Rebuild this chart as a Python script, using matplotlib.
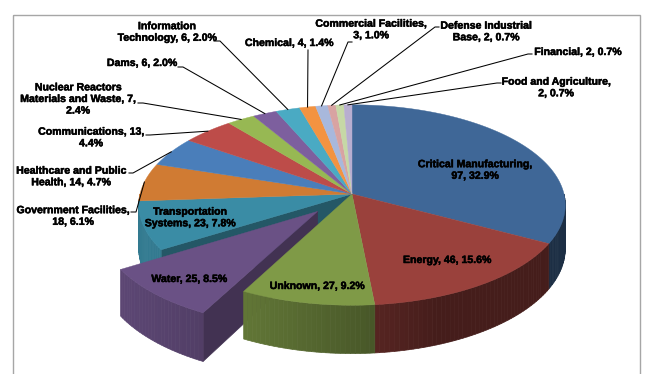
import numpy as np
import matplotlib
matplotlib.use("Agg")
import matplotlib.pyplot as plt
import matplotlib.patheffects as pe
from matplotlib.patches import Polygon, Rectangle
from matplotlib.colors import to_rgb

# ---------------- data ----------------
categories = ["Critical Manufacturing", "Energy", "Unknown", "Water",
              "Transportation\nSystems", "Government Facilities",
              "Healthcare and Public\nHealth", "Communications",
              "Nuclear Reactors\nMaterials and Waste", "Dams",
              "Information\nTechnology", "Chemical", "Commercial Facilities",
              "Defense Industrial\nBase", "Financial", "Food and Agriculture"]
counts = [97, 46, 27, 25, 23, 18, 14, 13, 7, 6, 6, 4, 3, 2, 2, 2]
explode = [0, 0, 0, 0.235, 0, 0, 0, 0, 0, 0, 0, 0, 0, 0, 0, 0]

# ---------------- style ----------------
top_colors = ["#3F6797", "#9A413C", "#7F9A47", "#6A5185", "#3A8CA5", "#D07B33",
              "#4A7EBA", "#BD4C49", "#97B853", "#7D5F9E", "#4AAAC3", "#F39341",
              "#A8B8DC", "#D8A3A2", "#C6D8A6", "#B8AED0"]
name_sep = [",\n", ", ", ", ", ", ", ", ", ",\n", ", ", ", ", ", ", ", ", ", ", ", ",
            ",\n", ", ", ", ", ",\n"]
count_sep = [", ", ", ", ", ", ", ", ", ", ", ", ", ", ",\n", ",\n", ", ", ", ", ", ",
             ", ", ", ", ", ", ", "]
label_xy = [(475, 170), (447, 260), (317, 286), (189, 279), (190, 217.5), (73, 216),
            (71, 176.5), (91, 137.5), (78, 99), (142, 63), (167, 32), (289, 43),
            (371, 29.5), (486, 31.5), (578, 52), (556, 87.5)]
leader_from = [None, None, None, None, None,
               [(131, 212), (136, 212)],
               [(129, 173), (133, 173)],
               [(146, 135), (150, 135)],
               [(138, 103), (143, 103)],
               [(178, 67), (183, 67)],
               [(214, 41), (220, 41)],
               [(308, 50)],
               [(352, 42), (348, 42)],
               [(439, 27), (435, 27)],
               [(532, 54), (528, 54)],
               [(501, 83), (497, 83)]]

W, H = 650, 374
fig = plt.figure(figsize=(W / 100, H / 100), dpi=100)
ax = fig.add_axes([0, 0, 1, 1])
ax.set_xlim(0, W)
ax.set_ylim(H, 0)
ax.axis("off")

CX, CY, RX, RY, DEPTH, K = 352, 194, 212, 99, 43, 0.11


def proj(u, v, z):
    u = np.asarray(u, float)
    v = np.asarray(v, float)
    f = 1.0 / (1.0 - K * v)
    return CX + RX * u * f, CY + (RY * v + DEPTH * z) * f


def shade(c, fac):
    return tuple(np.clip(np.array(to_rgb(c)) * fac, 0, 1))


vals = np.array(counts, float)
frac = vals / vals.sum()
edges = np.concatenate([[0], np.cumsum(frac)]) * 2 * np.pi
pct = frac * 100
n = len(vals)
light = np.array([-0.8, 0.3])

walls = []
tops = []
anchors = []
for i in range(n):
    a0, a1 = edges[i], edges[i + 1]
    mid = (a0 + a1) / 2
    ou, ov = explode[i] * np.sin(mid), -explode[i] * np.cos(mid)
    npts = max(2, int(np.ceil((a1 - a0) / np.radians(0.8))) + 1)
    t = np.linspace(a0, a1, npts)
    pu = np.concatenate([[ou], np.sin(t) + ou])
    pv = np.concatenate([[ov], -np.cos(t) + ov])
    x, y = proj(pu, pv, 0)
    tops.append((np.column_stack([x, y]), top_colors[i]))
    ax_, ay_ = proj(np.sin(mid) + ou, -np.cos(mid) + ov, 0)
    anchors.append((float(ax_), float(ay_)))
    # outer curved wall (front half)
    lo, hi = max(a0, np.pi / 2), min(a1, 3 * np.pi / 2)
    if hi > lo:
        ts = np.linspace(lo, hi, max(2, int(np.ceil((hi - lo) / np.radians(1.2))) + 1))
        for t0, t1 in zip(ts[:-1], ts[1:]):
            tt = np.array([t0, t1])
            uu = np.sin(tt) + ou
            vv = -np.cos(tt) + ov
            xt, yt = proj(uu, vv, 0)
            xb, yb = proj(uu, vv, 1)
            poly = [(xt[0], yt[0]), (xt[1], yt[1]), (xb[1], yb[1]), (xb[0], yb[0])]
            tm = (t0 + t1) / 2
            nrm = np.array([np.sin(tm), -np.cos(tm)])
            fac = 0.45 + 0.5 * max(0.0, nrm @ light)
            walls.append((vv.mean(), poly, shade(top_colors[i], fac)))
    # radial walls exposed by the exploded slice
    for a, sgn, nb in ((a0, -1, i - 1), (a1, 1, i + 1)):
        nb %= n
        if explode[i] == 0 and explode[nb] == 0:
            continue
        nrm = sgn * np.array([np.cos(a), np.sin(a)])
        if nrm[1] <= 0:
            continue
        uu = np.array([ou, ou + np.sin(a)])
        vv = np.array([ov, ov - np.cos(a)])
        xt, yt = proj(uu, vv, 0)
        xb, yb = proj(uu, vv, 1)
        poly = [(xt[0], yt[0]), (xt[1], yt[1]), (xb[1], yb[1]), (xb[0], yb[0])]
        walls.append((vv.mean(), poly, shade(top_colors[i], 0.62)))

walls.sort(key=lambda w: w[0])
for _, poly, col in walls:
    ax.add_patch(Polygon(poly, closed=True, facecolor=col, edgecolor=col, lw=0.5))
for poly, col in tops:
    ax.add_patch(Polygon(poly, closed=True, facecolor=col, edgecolor=col, lw=0.3))

# frame
ax.add_patch(Rectangle((13, 15), 627, 400, fill=False, edgecolor="#A6A6A6", lw=1.0))

# labels
for i in range(n):
    txt = f"{categories[i]}{name_sep[i]}{counts[i]}{count_sep[i]}{pct[i]:.1f}%"
    ax.text(label_xy[i][0], label_xy[i][1], txt, ha="center", va="center",
            multialignment="center", fontsize=7.6, fontweight="bold",
            family=["Liberation Sans", "DejaVu Sans"], color="black",
            linespacing=1.2, zorder=5,
            path_effects=[pe.withStroke(linewidth=0.35, foreground="black")])
    if leader_from[i] is not None:
        pts = list(leader_from[i]) + [anchors[i]]
        xs, ys = zip(*pts)
        ax.plot(xs, ys, color="black", lw=0.75, zorder=4)

fig.savefig("out.png", dpi=100)
